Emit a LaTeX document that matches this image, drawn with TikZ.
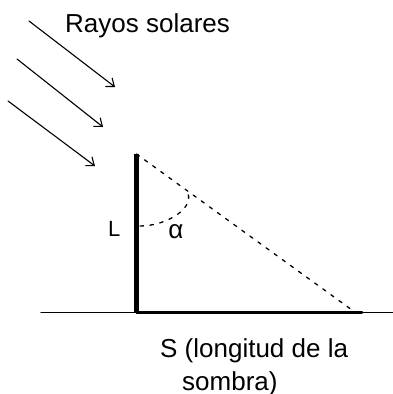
\documentclass[tikz,border=0pt]{standalone}
\usepackage{fontspec}
\setmainfont{Liberation Sans}
\usetikzlibrary{arrows.meta}
\tikzset{
  every picture/.style={line join=round, line cap=round},
  rayo/.style={->,>={Straight Barb[length=7pt,width=11pt]},line width=1.1pt},
  trazo/.style={dash pattern=on 3.5pt off 6.5pt,line width=1.3pt},
  rotulo/.style={anchor=base west,inner sep=0pt},
}
\begin{document}
\begin{tikzpicture}[x=1pt,y=-1pt,font=\fontsize{26}{33}\selectfont]
\useasboundingbox (0,0) rectangle (393,394);
\coordinate (r1a) at (29,21); \coordinate (r1b) at (115,87);
\coordinate (r2a) at (17,59); \coordinate (r2b) at (103,127);
\coordinate (r3a) at (8,101); \coordinate (r3b) at (95,166);
\draw[rayo] (r1a)--(r1b);
\draw[rayo] (r2a)--(r2b);
\draw[rayo] (r3a)--(r3b);
\coordinate (top) at (136.5,154);
\coordinate (pie) at (136.5,312);
\coordinate (fin) at (362,312);
\coordinate (punta) at (352,310);
\coordinate (izq) at (41,312.5);
\coordinate (der) at (393,312.5);
\coordinate (a1) at (140,226);
\coordinate (a2) at (186,190);
\draw[line width=1.3pt] (izq)--(der);
\draw[line width=3pt] (pie)--(fin);
\draw[line width=5pt,line cap=butt] (top)--(pie);
\draw[trazo] (top)--(punta);
\draw[trazo] (a1) .. controls (168,226) and (198,206) .. (a2);
\node[rotulo] (rayos) at (65,32) {Rayos solares};
\node[rotulo,font=\fontsize{22}{26}\selectfont] (L) at (108,236) {L};
\node[anchor=base,inner sep=0pt] (alfa) at (176,238) {α};
\node[rotulo] (S) at (160,357) {S (longitud de la};
\node[rotulo] (sombra) at (182,390) {sombra)};
\end{tikzpicture}
\end{document}
